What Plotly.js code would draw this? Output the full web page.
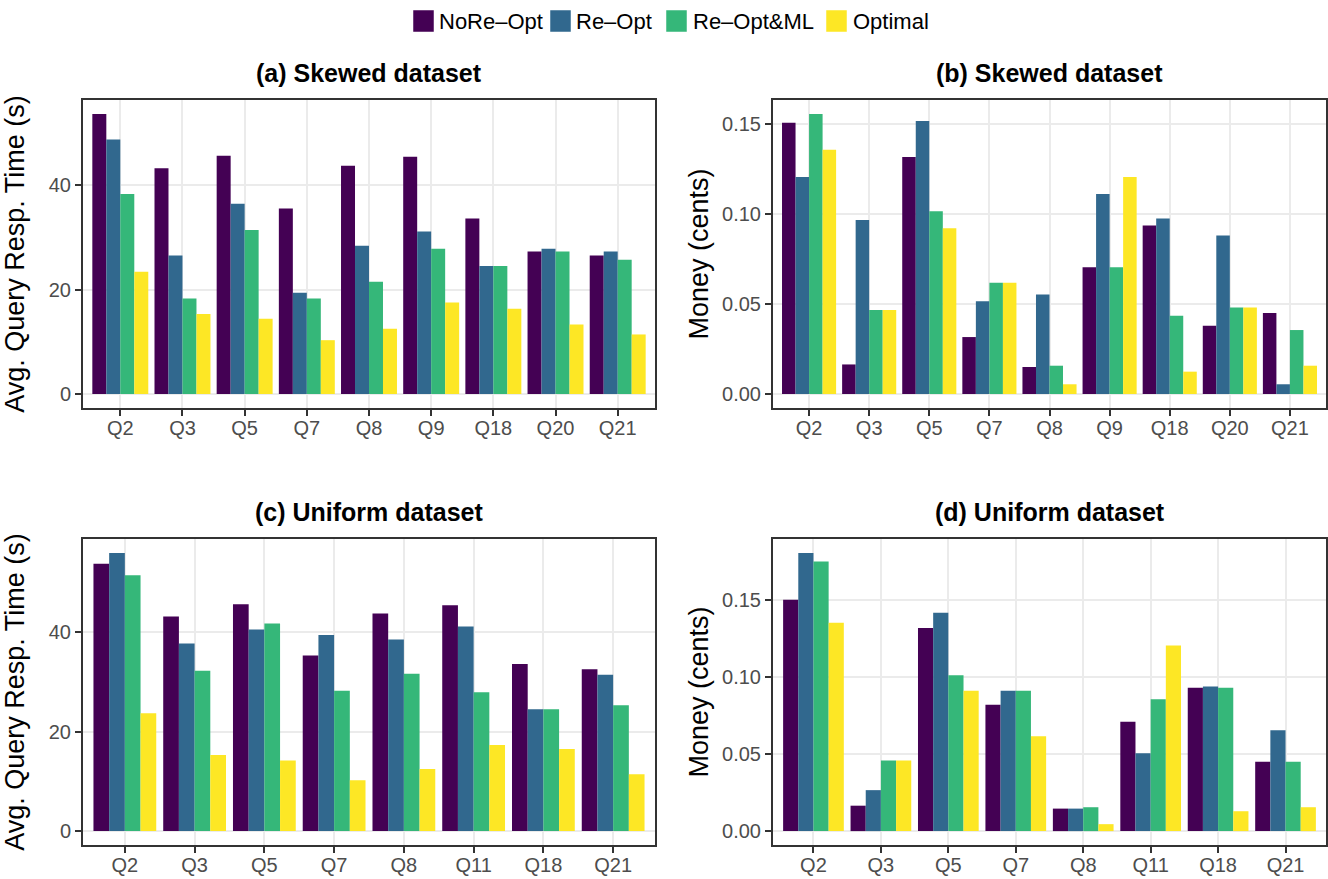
<!DOCTYPE html>
<html>
<head>
<meta charset="utf-8">
<script src="https://cdn.plot.ly/plotly-3.0.1.min.js"></script>
<style>
  html, body { margin: 0; padding: 0; background: #ffffff; }
  #chart { width: 1328px; height: 879px; }
</style>
</head>
<body>
<div id="chart"></div>
<script>
// ---- data ----
const seriesNames = ['NoRe\u2013Opt', 'Re\u2013Opt', 'Re\u2013Opt&ML', 'Optimal'];
const seriesColors = ['#440154', '#31688E', '#35B779', '#FDE725'];

const catsSkewed = ['Q2', 'Q3', 'Q5', 'Q7', 'Q8', 'Q9', 'Q18', 'Q20', 'Q21'];
const catsUniform = ['Q2', 'Q3', 'Q5', 'Q7', 'Q8', 'Q11', 'Q18', 'Q21'];

// (a) Skewed dataset - Avg. query response time (s)
const timeSkewedNoReOpt = [53.6, 43.2, 45.6, 35.5, 43.7, 45.4, 33.6, 27.3, 26.5];
const timeSkewedReOpt   = [48.7, 26.5, 36.4, 19.4, 28.4, 31.1, 24.5, 27.8, 27.3];
const timeSkewedReOptML = [38.3, 18.3, 31.4, 18.3, 21.5, 27.8, 24.5, 27.3, 25.7];
const timeSkewedOptimal = [23.4, 15.3, 14.4, 10.3, 12.5, 17.5, 16.3, 13.3, 11.4];

// (b) Skewed dataset - Money (cents)
const moneySkewedNoReOpt = [0.1506, 0.0164, 0.1315, 0.0316, 0.0150, 0.0704, 0.0935, 0.0379, 0.0449];
const moneySkewedReOpt   = [0.1205, 0.0966, 0.1515, 0.0515, 0.0552, 0.1110, 0.0974, 0.0879, 0.0054];
const moneySkewedReOptML = [0.1554, 0.0466, 0.1014, 0.0617, 0.0157, 0.0704, 0.0434, 0.0480, 0.0355];
const moneySkewedOptimal = [0.1356, 0.0466, 0.0920, 0.0617, 0.0054, 0.1205, 0.0124, 0.0480, 0.0157];

// (c) Uniform dataset - Avg. query response time (s)
const timeUniformNoReOpt = [53.7, 43.1, 45.6, 35.3, 43.7, 45.4, 33.6, 32.5];
const timeUniformReOpt   = [55.9, 37.7, 40.5, 39.4, 38.5, 41.1, 24.5, 31.4];
const timeUniformReOptML = [51.4, 32.2, 41.7, 28.2, 31.6, 27.9, 24.5, 25.3];
const timeUniformOptimal = [23.7, 15.3, 14.2, 10.2, 12.5, 17.3, 16.5, 11.4];

// (d) Uniform dataset - Money (cents)
const moneyUniformNoReOpt = [0.1502, 0.0165, 0.1320, 0.0820, 0.0146, 0.0710, 0.0931, 0.0451];
const moneyUniformReOpt   = [0.1807, 0.0266, 0.1418, 0.0912, 0.0146, 0.0506, 0.0940, 0.0655];
const moneyUniformReOptML = [0.1751, 0.0459, 0.1013, 0.0912, 0.0155, 0.0856, 0.0931, 0.0451];
const moneyUniformOptimal = [0.1354, 0.0459, 0.0912, 0.0616, 0.0045, 0.1206, 0.0129, 0.0155];

const panelTitles = ['(a) Skewed dataset', '(b) Skewed dataset', '(c) Uniform dataset', '(d) Uniform dataset'];
const timeTitle = 'Avg. Query Resp. Time (s)';
const moneyTitle = 'Money (cents)';
const timeTicks = [0, 20, 40];
const moneyTicks = [0, 0.05, 0.10, 0.15];

// ---- build ----
const FONT = 'Liberation Sans, Arial, Helvetica, sans-serif';
const W = 1328, H = 879;

const panels = [
  {cats: catsSkewed, series: [timeSkewedNoReOpt, timeSkewedReOpt, timeSkewedReOptML, timeSkewedOptimal], xa: 'x', ya: 'y', ticks: timeTicks, fmt: '', ytitle: timeTitle},
  {cats: catsSkewed, series: [moneySkewedNoReOpt, moneySkewedReOpt, moneySkewedReOptML, moneySkewedOptimal], xa: 'x2', ya: 'y2', ticks: moneyTicks, fmt: '.2f', ytitle: moneyTitle},
  {cats: catsUniform, series: [timeUniformNoReOpt, timeUniformReOpt, timeUniformReOptML, timeUniformOptimal], xa: 'x3', ya: 'y3', ticks: timeTicks, fmt: '', ytitle: timeTitle},
  {cats: catsUniform, series: [moneyUniformNoReOpt, moneyUniformReOpt, moneyUniformReOptML, moneyUniformOptimal], xa: 'x4', ya: 'y4', ticks: moneyTicks, fmt: '.2f', ytitle: moneyTitle}
];

// pixel boxes of panels [left, right, top, bottom]
const boxes = [
  [83, 655, 100, 408],
  [773, 1326, 100, 408],
  [83, 655, 539, 845],
  [773, 1326, 539, 845]
];

const traces = [];
panels.forEach((p, pi) => {
  p.series.forEach((vals, si) => {
    traces.push({
      type: 'bar',
      x: p.cats,
      y: vals,
      name: seriesNames[si],
      legendgroup: seriesNames[si],
      showlegend: false,
      marker: {color: seriesColors[si], line: {width: 0}},
      xaxis: p.xa,
      yaxis: p.ya,
      hoverinfo: 'x+y+name'
    });
  });
});

const layout = {
  width: W, height: H,
  margin: {l: 0, r: 0, t: 0, b: 0},
  paper_bgcolor: '#ffffff',
  plot_bgcolor: '#ffffff',
  barmode: 'group',
  bargap: 0.1,
  bargroupgap: 0,
  font: {family: FONT, color: '#000000'},
  showlegend: false,
  annotations: [],
  shapes: []
};

// legend (ggplot-style key squares + labels on top)
const legendSquareX = [413, 550, 666, 826];
const legendTextX = [437, 574, 691, 851];
seriesNames.forEach((nm, si) => {
  layout.shapes.push({
    type: 'rect', xref: 'paper', yref: 'paper',
    x0: legendSquareX[si] / W, x1: (legendSquareX[si] + 21) / W,
    y0: 1 - 32 / H, y1: 1 - 10 / H,
    fillcolor: seriesColors[si],
    line: {width: 0.5, color: '#ffffff'}
  });
  layout.annotations.push({
    text: nm, xref: 'paper', yref: 'paper',
    x: legendTextX[si] / W, y: 1 - 21 / H,
    xanchor: 'left', yanchor: 'middle',
    showarrow: false,
    font: {family: FONT, size: 22, color: '#000000'}
  });
});

panels.forEach((p, pi) => {
  const b = boxes[pi];
  const idx = pi === 0 ? '' : String(pi + 1);
  const allVals = [].concat(...p.series);
  const maxV = Math.max(...allVals);
  const yr = [-0.05 * maxV, maxV * 1.05];
  layout['xaxis' + idx] = {
    domain: [b[0] / W, b[1] / W],
    anchor: 'y' + idx,
    type: 'category',
    range: [-0.6, p.cats.length - 0.4],
    showgrid: true, gridcolor: '#ebebeb', gridwidth: 2,
    showline: true, mirror: true, linecolor: '#333333', linewidth: 2,
    ticks: 'outside', ticklen: 6, tickwidth: 2, tickcolor: '#333333',
    ticklabelstandoff: -5,
    tickfont: {family: FONT, size: 20, color: '#4d4d4d'},
    zeroline: false, fixedrange: true
  };
  layout['yaxis' + idx] = {
    domain: [1 - b[3] / H, 1 - b[2] / H],
    anchor: 'x' + idx,
    range: yr,
    tickmode: 'array',
    tickvals: p.ticks,
    tickformat: p.fmt,
    showgrid: true, gridcolor: '#ebebeb', gridwidth: 2,
    showline: true, mirror: true, linecolor: '#333333', linewidth: 2,
    ticks: 'outside', ticklen: 6, tickwidth: 2, tickcolor: '#333333',
    tickfont: {family: FONT, size: 20, color: '#4d4d4d'},
    zeroline: false, fixedrange: true,
    title: {text: p.ytitle, font: {family: FONT, size: 27, color: '#000000'}}
  };
  layout.annotations.push({
    text: '<b>' + panelTitles[pi] + '</b>',
    xref: 'paper', yref: 'paper',
    x: ((b[0] + b[1]) / 2) / W,
    y: 1 - (b[2] - 27) / H,
    xanchor: 'center', yanchor: 'middle',
    showarrow: false,
    font: {family: FONT, size: 25, color: '#000000'}
  });
});

Plotly.newPlot('chart', traces, layout, {displayModeBar: false, staticPlot: true});
</script>
</body>
</html>
